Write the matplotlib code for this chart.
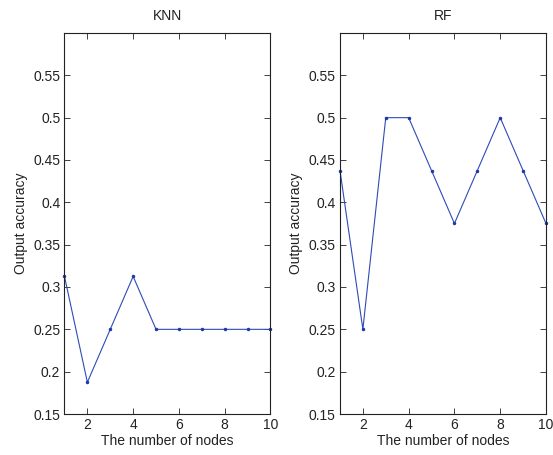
import matplotlib
matplotlib.use("Agg")
import matplotlib.pyplot as plt

nodes = [1, 2, 3, 4, 5, 6, 7, 8, 9, 10]
knn_acc = [0.3125, 0.1875, 0.25, 0.3125, 0.25, 0.25, 0.25, 0.25, 0.25, 0.25]
rf_acc = [0.4375, 0.25, 0.5, 0.5, 0.4375, 0.375, 0.4375, 0.5, 0.4375, 0.375]
titles = ["KNN", "RF"]
yticks = [0.15, 0.2, 0.25, 0.3, 0.35, 0.4, 0.45, 0.5, 0.55]
ytick_labels = ["0.15", "0.2", "0.25", "0.3", "0.35", "0.4", "0.45", "0.5", "0.55"]
xticks = [2, 4, 6, 8, 10]

plt.rcParams["font.family"] = ["Liberation Sans", "DejaVu Sans"]
plt.rcParams["font.size"] = 10

fig = plt.figure(figsize=(5.53, 4.55), dpi=100)
lefts = [0.1166, 0.6148]

for left, title, acc in zip(lefts, titles, [knn_acc, rf_acc]):
    ax = fig.add_axes([left, 0.0901, 0.3725, 0.8374])
    ax.plot(nodes, acc, color="#2f4bb5", lw=0.8, marker=".", ms=3,
            mec="#1f3aa8", mfc="#1f3aa8", clip_on=False)
    ax.set_xlim(1, 10)
    ax.set_ylim(0.15, 0.6)
    ax.set_xticks(xticks)
    ax.set_yticks(yticks)
    ax.set_yticklabels(ytick_labels)
    ax.tick_params(direction="in", top=True, right=True, length=4, width=0.6,
                   labelsize=10, colors="#222222", pad=3)
    for s in ax.spines.values():
        s.set_linewidth(0.8)
        s.set_color("#222222")
    ax.set_title(title, fontsize=10, pad=9, color="#222222")
    ax.set_xlabel("The number of nodes", fontsize=10, labelpad=1, color="#222222")
    ax.set_ylabel("Output accuracy", fontsize=10, labelpad=4, color="#222222")

fig.savefig("out.png", dpi=100)
